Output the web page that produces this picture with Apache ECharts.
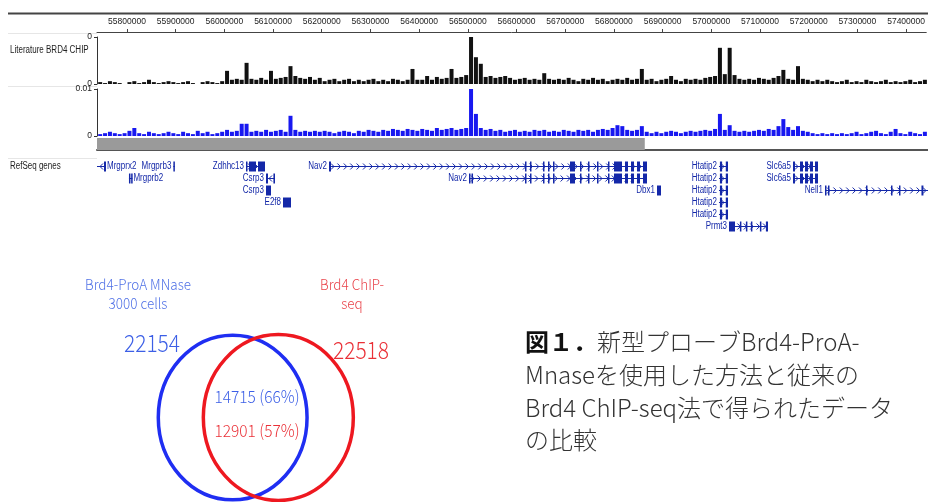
<!DOCTYPE html>
<html><head><meta charset="utf-8">
<script src="https://cdn.jsdelivr.net/npm/echarts@6/dist/echarts.min.js"></script>
<style>html,body{margin:0;padding:0;background:#fff}#c{width:928px;height:502px}</style>
</head><body><div id="c"></div>
<script>
// ---------- genome browser data ----------
const viewStart = 55738500, viewEnd = 57441400;
const rulerTicks = [55800000,55900000,56000000,56100000,56200000,56300000,56400000,56500000,
  56600000,56700000,56800000,56900000,57000000,57100000,57200000,57300000,57400000];
const trackLabels = ['Literature BRD4 CHIP', 'RefSeq genes'];
const blackAxisLabels = ['0', '0'];      // [bottom, top]
const blueAxisLabels = ['0', '0.01'];    // [bottom, top]
const binStart = 55740000, binSize = 10000;
// signal per 10 kb bin, % of track full scale
const literatureBrd4 = [
  4,2,6,4,2,0,4,6,2,4,
  9,4,2,4,6,4,2,4,6,2,
  0,4,6,4,2,6,28,9,11,9,
  45,11,9,13,9,28,11,13,15,38,
  17,13,11,15,9,13,6,9,11,6,
  9,11,6,9,6,9,11,6,9,6,
  11,9,6,9,32,9,9,17,9,15,
  11,13,32,13,15,19,100,57,43,15,
  17,13,15,17,13,9,11,13,9,11,
  9,23,11,9,11,9,13,9,6,11,
  9,13,9,11,6,9,11,9,13,9,
  11,32,9,11,6,9,11,17,9,6,
  11,9,11,9,13,15,17,77,21,77,
  19,11,9,11,9,13,11,9,13,17,
  30,11,9,38,11,9,6,9,6,9,
  6,4,6,9,4,6,4,9,6,4,
  6,9,4,6,4,6,9,4,6,9];
const brd4ProA = [
  4,6,9,6,4,6,11,17,6,4,
  9,6,4,6,9,6,4,9,6,4,
  11,6,9,4,6,9,13,9,11,26,
  26,9,11,9,13,9,11,13,9,43,
  13,9,11,9,11,9,11,9,6,9,
  11,9,6,11,9,13,11,9,13,11,
  15,13,11,15,13,11,15,13,11,17,
  13,15,17,13,15,17,100,47,17,13,
  15,11,13,9,11,13,9,11,9,13,
  11,13,9,11,9,13,11,9,13,11,
  13,9,13,15,13,17,23,21,13,11,
  13,21,9,6,9,6,9,11,9,6,
  9,11,9,11,13,11,15,47,13,23,
  11,9,11,9,11,13,11,15,13,21,
  36,19,13,21,11,9,6,4,6,4,
  6,4,6,4,6,9,4,6,9,11,
  6,4,9,15,6,4,9,6,4,9];
const grayRegion = [[55738500, 56861000]];

const geneNames  = ['Mrgprx2','Mrgprb3','Mrgprb2','Zdhhc13','Csrp3','Csrp3','E2f8','Nav2','Nav2','Dbx1',
  'Htatip2','Htatip2','Htatip2','Htatip2','Htatip2','Prmt3','Slc6a5','Slc6a5','Nell1'];
const geneStarts = [55738500,55895000,55804000,56043830,56084810,56084810,56119650,56213910,56500800,56886040,
  57013090,57013090,57013090,57013090,57013090,57033580,57164730,57164730,57230300];
const geneEnds   = [55756940,55898000,55811000,56082760,56103250,56095060,56136040,56865550,56865550,56894240,
  57031530,57031530,57031530,57031530,57031530,57113500,57215960,57215960,57441400];
const geneRows   = [0,0,1,0,1,2,3,0,1,2,0,1,2,3,4,5,0,1,2];
const geneStrands = [-1,1,1,1,-1,1,1,1,1,1,1,1,1,1,1,1,1,1,1];
const geneLabelSide = ['right','left','right','left','left','left','left','left','left','left',
  'left','left','left','left','left','left','left','left','left'];
const nav2Exons3p = [[56615570,56617600],[56625810,56627800],[56652450,56654500],[56662700,56664700],
  [56672940,56675000],[56707780,56718020],[56728270,56730300],[56744660,56746700],[56763100,56765100],
  [56785650,56787700],[56797940,56814340],[56820480,56826630],[56832780,56838930],[56845080,56851220],
  [56857370,56865550]];
const htatip2Exons = [[57015000,57019500],[57027000,57031530]];
const slc6a5Exons = [[57164730,57168830],[57179070,57185220],[57189320,57195460],[57199560,57205710],[57209800,57215960]];
const geneExons = [
  [[55752840,55756940]],
  [[55895000,55898000]],
  [[55804000,55806500],[55808500,55811000]],
  [[56043830,56046000],[56049980,56064320],[56068420,56082760]],
  [[56084810,56088910],[56100000,56103250]],
  [[56084810,56095060]],
  [[56119650,56136040]],
  [[56213910,56218010]].concat(nav2Exons3p),
  [[56500800,56503500],[56506000,56507500]].concat(nav2Exons3p),
  [[56886040,56894240]],
  htatip2Exons, htatip2Exons, htatip2Exons, htatip2Exons, htatip2Exons,
  [[57033580,57045880],[57055940,57057990],[57068230,57070280],[57078480,57080520],[57096920,57098970],[57109210,57113500]],
  slc6a5Exons, slc6a5Exons,
  [[57230300,57232340],[57236440,57238490],[57314310,57316360],[57365540,57367590],[57381930,57383980],[57428000,57432000]]
];

// ---------- Venn data ----------
const vennSetNames = ['Brd4-ProA MNase\n3000 cells', 'Brd4 ChIP-\nseq'];
const vennSetSizes = [22154, 22518];
const vennOverlapCounts = [14715, 12901];

// ---------- caption ----------
const captionLines = ['{b|図１．}新型プローブBrd4-ProA-', 'Mnaseを使用した方法と従来の', 'Brd4 ChIP-seq法で得られたデータ', 'の比較'];

// ---------- build ----------
const sans = "'Liberation Sans',Arial,Helvetica,sans-serif";
const jp = "'Noto Sans CJK JP','Noto Sans',sans-serif";
const geneColor = '#1428a8';
const blueSet = '#1f2ef2', redSet = '#ee1820';
const blueText = '#4f70e6', redText = '#e9434a';

const binCenters = literatureBrd4.map((v, i) => binStart + binSize * (i + 0.5));

const exonData = [];
geneExons.forEach((list, gi) => list.forEach(e => exonData.push([e[0], e[1], geneRows[gi]])));

// Venn layout from set sizes: equal-area overlap fraction
function lensFrac(d) { return (2 * Math.acos(d / 2) - (d / 2) * Math.sqrt(4 - d * d)) / Math.PI; }
const fOverlap = (vennOverlapCounts[0] / vennSetSizes[0] + vennOverlapCounts[1] / vennSetSizes[1]) / 2;
let lo = 0, hi = 2;
for (let k = 0; k < 60; k++) { const m = (lo + hi) / 2; if (lensFrac(m) > fOverlap) lo = m; else hi = m; }
const dCenters = (lo + hi) / 2;
const maxSize = Math.max(...vennSetSizes);
const vennData = [
  [-dCenters / 2, 0, Math.sqrt(vennSetSizes[0] / maxSize), 0],
  [ dCenters / 2, 0, Math.sqrt(vennSetSizes[1] / maxSize), 1]
];
const pct = vennOverlapCounts.map((c, i) => Math.round(c / vennSetSizes[i] * 100));

const hiddenX = (gi) => ({gridIndex: gi, type: 'value', min: viewStart, max: viewEnd, show: false});
const hiddenY = (gi, mn, mx, inv) => ({gridIndex: gi, type: 'value', min: mn, max: mx, show: false, inverse: !!inv});

const trackY = (gi, labels) => ({
  gridIndex: gi, type: 'value', min: 0, max: 100, interval: 100,
  axisLine: {show: true, lineStyle: {color: '#333', width: 1}},
  axisTick: {show: true, length: 3, lineStyle: {color: '#333'}},
  axisLabel: {formatter: v => (v === 0 ? labels[0] : labels[1]), fontSize: 8.5, fontFamily: sans, color: '#222', margin: 5},
  splitLine: {show: false}
});

const option = {
  animation: false,
  grid: [
    {left: 97, right: 0, top: 31, height: 1},
    {left: 97, right: 0, top: 37, height: 47},
    {left: 97, right: 0, top: 89, height: 47},
    {left: 97, right: 0, top: 138, height: 12},
    {left: 97, right: 0, top: 160, height: 72},
    {left: 105.5, top: 251.5, width: 300, height: 250.5}
  ],
  xAxis: [
    {gridIndex: 0, type: 'value', min: viewStart, max: viewEnd, position: 'top',
      axisLine: {show: true, lineStyle: {color: '#444', width: 1}},
      axisTick: {show: true, customValues: rulerTicks, length: 3, lineStyle: {color: '#444'}},
      axisLabel: {customValues: rulerTicks, formatter: v => String(v), fontSize: 8.5, fontFamily: sans, color: '#222', margin: 5},
      splitLine: {show: false}},
    hiddenX(1), hiddenX(2),
    {gridIndex: 3, type: 'value', min: viewStart, max: viewEnd, position: 'bottom',
      axisLine: {show: true, lineStyle: {color: '#555', width: 2}},
      axisTick: {show: false}, axisLabel: {show: false}, splitLine: {show: false}},
    hiddenX(4),
    {gridIndex: 5, type: 'value', min: -2, max: 2, show: false}
  ],
  yAxis: [
    hiddenY(0, 0, 1),
    trackY(1, blackAxisLabels),
    trackY(2, blueAxisLabels),
    hiddenY(3, 0, 1),
    hiddenY(4, -0.5, 5.5, true),
    hiddenY(5, -1.018, 2)
  ],
  series: [
    {type: 'bar', xAxisIndex: 1, yAxisIndex: 1, barWidth: 4, silent: true,
      itemStyle: {color: '#111'}, data: binCenters.map((x, i) => [x, literatureBrd4[i]])},
    {type: 'bar', xAxisIndex: 2, yAxisIndex: 2, barWidth: 4, silent: true,
      itemStyle: {color: '#1818f0'}, data: binCenters.map((x, i) => [x, brd4ProA[i]])},
    {type: 'custom', xAxisIndex: 3, yAxisIndex: 3, silent: true, clip: false, data: grayRegion,
      renderItem: (params, api) => {
        const p0 = api.coord([api.value(0), 1]), p1 = api.coord([api.value(1), 0]);
        return {type: 'rect', shape: {x: p0[0], y: p0[1], width: p1[0] - p0[0], height: p1[1] - p0[1]}, style: {fill: '#9a9a9a'}};
      }},
    {type: 'custom', xAxisIndex: 4, yAxisIndex: 4, silent: true, clip: false,
      data: geneNames.map((n, i) => [geneStarts[i], geneEnds[i], geneRows[i]]),
      renderItem: (params, api) => {
        const i = params.dataIndex;
        const a = api.coord([api.value(0), api.value(2)]);
        const b = api.coord([api.value(1), api.value(2)]);
        const y = Math.round(a[1]) + 0.5;
        const ch = [{type: 'line', shape: {x1: a[0], y1: y, x2: b[0], y2: y}, style: {stroke: geneColor, lineWidth: 1}}];
        const dir = geneStrands[i];
        for (let x = a[0] + 4; x < b[0] - 2; x += 6.4) {
          const pts = dir > 0 ? [[x - 2, y - 3], [x + 1, y], [x - 2, y + 3]] : [[x + 2, y - 3], [x - 1, y], [x + 2, y + 3]];
          ch.push({type: 'polyline', shape: {points: pts}, style: {stroke: geneColor, fill: null, lineWidth: 1}});
        }
        const right = geneLabelSide[i] === 'right';
        ch.push({type: 'text', x: right ? b[0] + 1 : a[0] - 2, y: y, scaleX: 0.8,
          style: {text: geneNames[i], align: right ? 'left' : 'right', verticalAlign: 'middle', fill: geneColor, font: '10px ' + sans}});
        return {type: 'group', children: ch};
      }},
    {type: 'custom', xAxisIndex: 4, yAxisIndex: 4, silent: true, clip: false, data: exonData,
      renderItem: (params, api) => {
        const a = api.coord([api.value(0), api.value(2)]);
        const b = api.coord([api.value(1), api.value(2)]);
        const y = Math.round(a[1]) + 0.5;
        return {type: 'rect', shape: {x: a[0], y: y - 5, width: Math.max(b[0] - a[0], 1.5), height: 10}, style: {fill: geneColor}};
      }},
    {type: 'custom', xAxisIndex: 5, yAxisIndex: 5, silent: true, clip: false, data: vennData,
      renderItem: (params, api) => {
        const c = api.coord([api.value(0), api.value(1)]);
        const s = api.size([api.value(2), api.value(2)]);
        return {type: 'ellipse', shape: {cx: c[0], cy: c[1], rx: s[0], ry: s[1]},
          style: {stroke: api.value(3) === 0 ? blueSet : redSet, fill: null, lineWidth: 3.5}};
      }}
  ],
  graphic: [
    {type: 'line', shape: {x1: 8, y1: 13.5, x2: 928, y2: 13.5}, style: {stroke: '#444', lineWidth: 2}},
    {type: 'line', shape: {x1: 8, y1: 33.5, x2: 97, y2: 33.5}, style: {stroke: '#e6e6e6', lineWidth: 1}},
    {type: 'line', shape: {x1: 8, y1: 86.5, x2: 97, y2: 86.5}, style: {stroke: '#e6e6e6', lineWidth: 1}},
    {type: 'line', shape: {x1: 8, y1: 158.5, x2: 97, y2: 158.5}, style: {stroke: '#e6e6e6', lineWidth: 1}},
    {type: 'text', x: 10, y: 50, scaleX: 0.8, style: {text: trackLabels[0], font: '10px ' + sans, fill: '#222', verticalAlign: 'middle'}},
    {type: 'text', x: 10, y: 166, scaleX: 0.8, style: {text: trackLabels[1], font: '10px ' + sans, fill: '#222', verticalAlign: 'middle'}},
    {type: 'text', x: 138, y: 294, scaleY: 1.08, style: {text: vennSetNames[0], align: 'center', verticalAlign: 'middle', fontSize: 13.5, lineHeight: 18, fontFamily: jp, fontWeight: 300, fill: blueText}},
    {type: 'text', x: 352, y: 294, scaleY: 1.08, style: {text: vennSetNames[1], align: 'center', verticalAlign: 'middle', fontSize: 13.5, lineHeight: 18, fontFamily: jp, fontWeight: 300, fill: redText}},
    {type: 'text', x: 152, y: 343, scaleY: 1.12, style: {text: String(vennSetSizes[0]), align: 'center', verticalAlign: 'middle', fontSize: 21, fontFamily: jp, fontWeight: 300, fill: '#3c5fe6'}},
    {type: 'text', x: 361, y: 350, scaleY: 1.12, style: {text: String(vennSetSizes[1]), align: 'center', verticalAlign: 'middle', fontSize: 21, fontFamily: jp, fontWeight: 300, fill: '#ea3037'}},
    {type: 'text', x: 257, y: 397, scaleY: 1.1, style: {text: vennOverlapCounts[0] + ' (' + pct[0] + '%)', align: 'center', verticalAlign: 'middle', fontSize: 15.5, fontFamily: jp, fontWeight: 300, fill: '#3c5fe6'}},
    {type: 'text', x: 257, y: 431, scaleY: 1.1, style: {text: vennOverlapCounts[1] + ' (' + pct[1] + '%)', align: 'center', verticalAlign: 'middle', fontSize: 15.5, fontFamily: jp, fontWeight: 300, fill: '#ea3037'}}
  ].concat(captionLines.map((t, k) => ({
    type: 'text', x: 525, y: 342 + k * 32.7,
    style: {text: t, verticalAlign: 'middle', fontSize: 24, fontFamily: jp, fontWeight: 300, fill: '#333',
      rich: {b: {fontSize: 24, fontFamily: jp, fontWeight: 'bold', fill: '#111'}}}
  })))
};

const chart = echarts.init(document.getElementById('c'), null, {renderer: 'canvas'});
chart.setOption(option);
</script>
</body></html>
